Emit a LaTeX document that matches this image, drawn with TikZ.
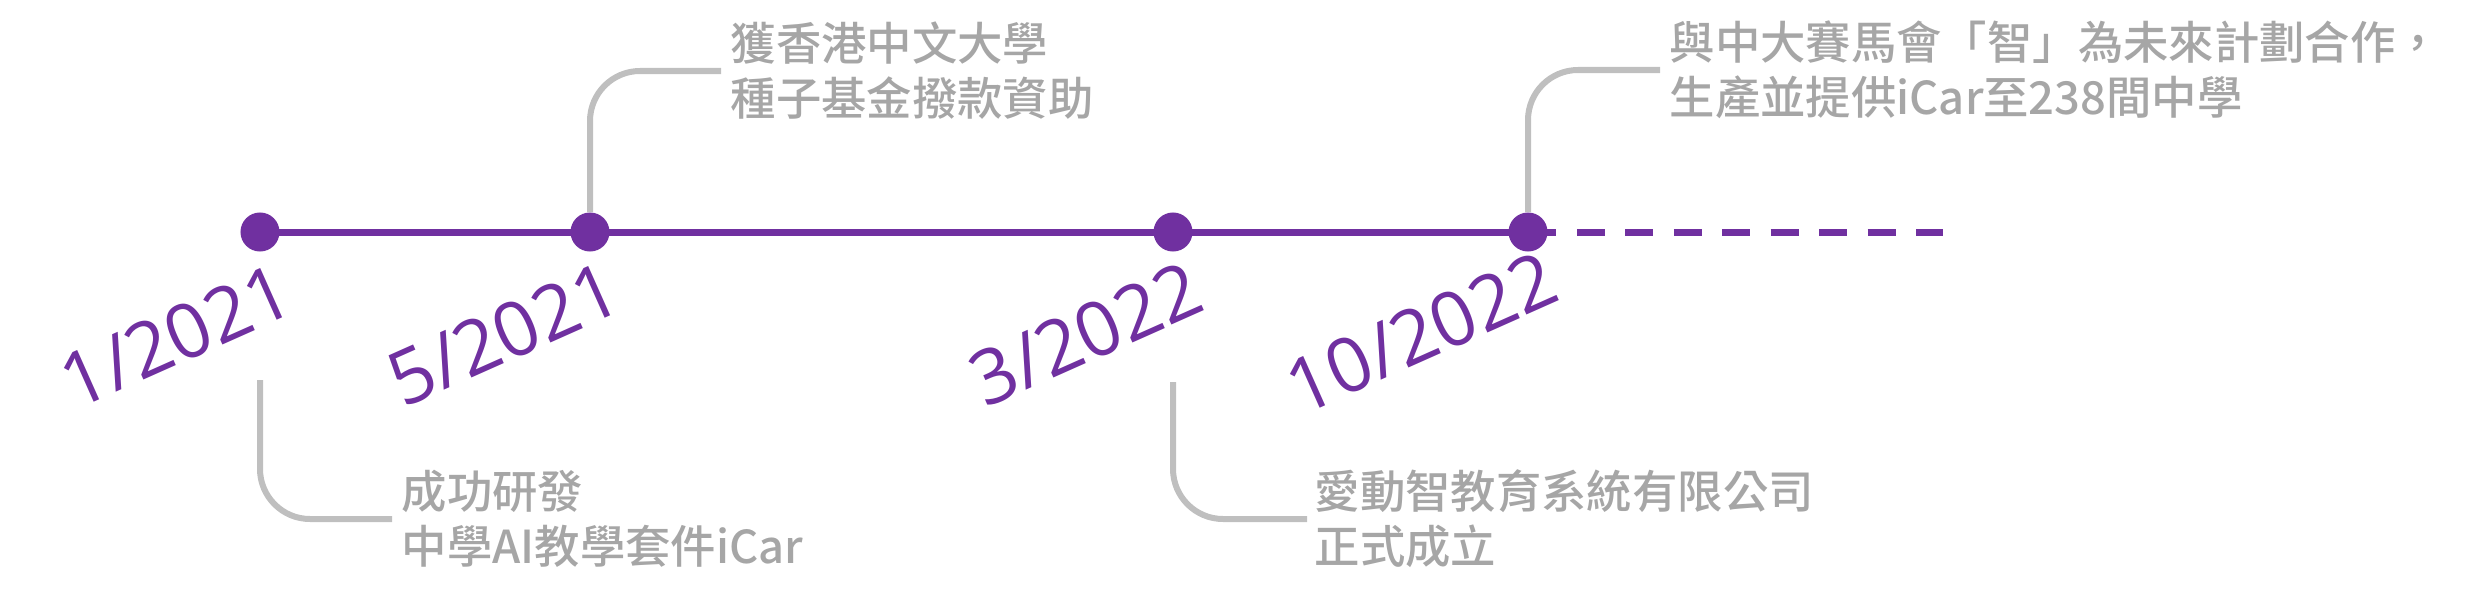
\documentclass[tikz,border=0pt]{standalone}
\usepackage{fontspec}
\newfontfamily\cjk{Noto Sans CJK TC Medium}
\newfontfamily\datefont{Open Sans}
\definecolor{tlpurple}{HTML}{7030A0}
\definecolor{txtgray}{HTML}{A6A6A6}
\definecolor{congray}{HTML}{BFBFBF}
\begin{document}
\begin{tikzpicture}[x=0.01cm,y=-0.01cm,
  tl/.style={draw=tlpurple,line width=0.07cm},
  dot/.style={circle,fill=tlpurple,minimum size=0.39cm,inner sep=0pt},
  conn/.style={draw=congray,line width=0.06cm,rounded corners=0.5cm},
  date/.style={text=tlpurple,font=\datefont\fontsize{21.5pt}{25pt}\selectfont,rotate=24,anchor=base east,inner sep=0pt},
  note/.style={text=txtgray,font=\cjk\fontsize{12.9pt}{15.65pt}\selectfont,align=left,anchor=west,inner sep=0pt}]
\useasboundingbox (0,0) rectangle (2473,603);

% timeline
\node[dot] (d1) at (260,232) {};
\node[dot] (d2) at (590,232) {};
\node[dot] (d3) at (1173,232) {};
\node[dot] (d4) at (1528,232) {};
\coordinate (solidend) at (1556,232);
\coordinate (dashstart) at (1577,232);
\coordinate (dashend) at (1943,232);
\draw[tl] (d1.center) -- (solidend);
\draw[tl,dash pattern=on 0.28cm off 0.204cm] (dashstart) -- (dashend);

% notes
\node[note] (n1) at (401,519) {成功研發\\中學AI教學套件iCar};
\node[note] (n2) at (730,71) {獲香港中文大學\\種子基金撥款資助};
\node[note] (n3) at (1314,519) {愛動智教育系統有限公司\\正式成立};
\node[note] (n4) at (1669,70) {與中大賽馬會「智」為未來計劃合作，\\生產並提供iCar至238間中學};

% connectors
\coordinate (c1) at (260,380);
\coordinate (c3) at (1173,382);
\draw[conn] (c1) |- ([xshift=-0.09cm]n1.west);
\draw[conn] (d2.north) |- ([xshift=-0.09cm]n2.west);
\draw[conn] (c3) |- ([xshift=-0.07cm]n3.west);
\draw[conn] (d4.north) |- ([xshift=-0.09cm]n4.west);

% dates
\node[date] (t1) at (299,311) {1/2021};
\node[date] (t2) at (627,309) {5/2021};
\node[date] (t3) at (1209,309) {3/2022};
\node[date] (t4) at (1564,299) {10/2022};
\end{tikzpicture}
\end{document}
